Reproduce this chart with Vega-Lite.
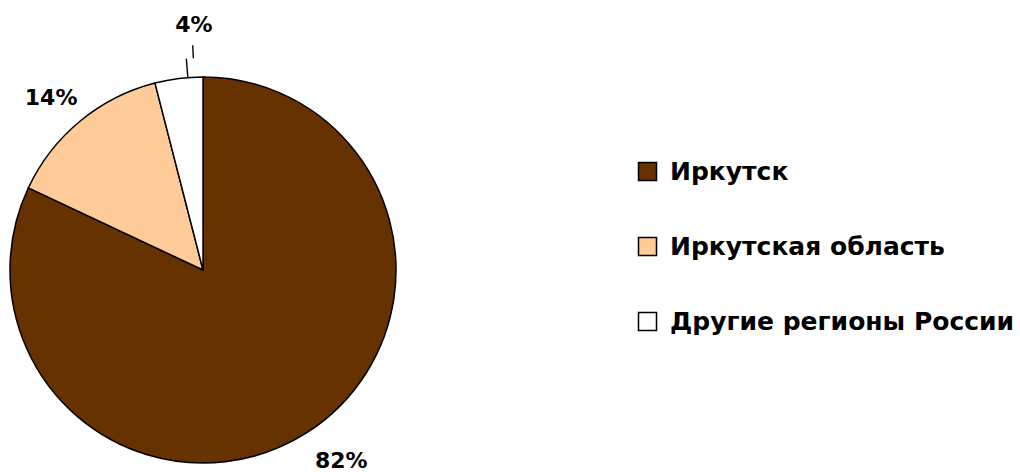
{
  "$schema": "https://vega.github.io/schema/vega-lite/v6.json",
  "width": 406,
  "height": 404,
  "autosize": {"type": "none"},
  "padding": {"left": 0, "top": 68, "right": 614, "bottom": 0},
  "background": "white",
  "config": {"view": {"stroke": null}},
  "data": {
    "values": [
      {"region": "Иркутск", "share": 0.82, "rank": 1},
      {"region": "Иркутская область", "share": 0.14, "rank": 2},
      {"region": "Другие регионы России", "share": 0.04, "rank": 3}
    ]
  },
  "encoding": {
    "theta": {"field": "share", "type": "quantitative", "stack": true},
    "order": {"field": "rank", "type": "quantitative", "sort": "ascending"}
  },
  "layer": [
    {
      "mark": {"type": "arc", "radius": 193, "stroke": "black", "strokeWidth": 1.5},
      "encoding": {
        "color": {
          "field": "region",
          "type": "nominal",
          "scale": {
            "domain": ["Иркутск", "Иркутская область", "Другие регионы России"],
            "range": ["#663300", "#FFCC99", "#FFFFFF"]
          },
          "legend": {
            "title": null,
            "orient": "none",
            "legendX": 635,
            "legendY": 91,
            "padding": 0,
            "symbolType": "square",
            "symbolSize": 324,
            "symbolStrokeColor": "black",
            "symbolStrokeWidth": 1.5,
            "symbolOpacity": 1,
            "labelFont": "DejaVu Sans",
            "labelFontSize": 25,
            "labelFontWeight": "bold",
            "labelColor": "black",
            "labelOffset": 10,
            "labelLimit": 500,
            "rowPadding": 49
          }
        }
      }
    },
    {
      "mark": {"type": "arc", "radius": 212, "radius2": 193, "padAngle": 0.3, "thetaOffset": 0.047, "fillOpacity": 0, "stroke": "black", "strokeWidth": 1.4},
      "encoding": {
        "strokeOpacity": {"condition": {"test": "datum.region === 'Другие регионы России'", "value": 1}, "value": 0}
      }
    },
    {
      "mark": {"type": "arc", "radius": 225, "radius2": 212, "padAngle": 0.3, "thetaOffset": 0.08, "fillOpacity": 0, "stroke": "black", "strokeWidth": 1.4},
      "encoding": {
        "strokeOpacity": {"condition": {"test": "datum.region === 'Другие регионы России'", "value": 1}, "value": 0}
      }
    },
    {
      "mark": {"type": "text", "radius": 232, "dx": 14, "dy": -5, "font": "DejaVu Sans", "fontSize": 22, "fontWeight": "bold", "color": "black", "align": "center", "baseline": "middle"},
      "encoding": {
        "text": {"condition": {"test": "datum.region === 'Иркутск'", "field": "share", "type": "quantitative", "format": ".0%"}, "value": ""}
      }
    },
    {
      "mark": {"type": "text", "radius": 232, "dx": -4, "dy": 7, "font": "DejaVu Sans", "fontSize": 22, "fontWeight": "bold", "color": "black", "align": "center", "baseline": "middle"},
      "encoding": {
        "text": {"condition": {"test": "datum.region === 'Иркутская область'", "field": "share", "type": "quantitative", "format": ".0%"}, "value": ""}
      }
    },
    {
      "mark": {"type": "text", "radius": 232, "dx": 20, "dy": -15, "font": "DejaVu Sans", "fontSize": 22, "fontWeight": "bold", "color": "black", "align": "center", "baseline": "middle"},
      "encoding": {
        "text": {"condition": {"test": "datum.region === 'Другие регионы России'", "field": "share", "type": "quantitative", "format": ".0%"}, "value": ""}
      }
    }
  ]
}
